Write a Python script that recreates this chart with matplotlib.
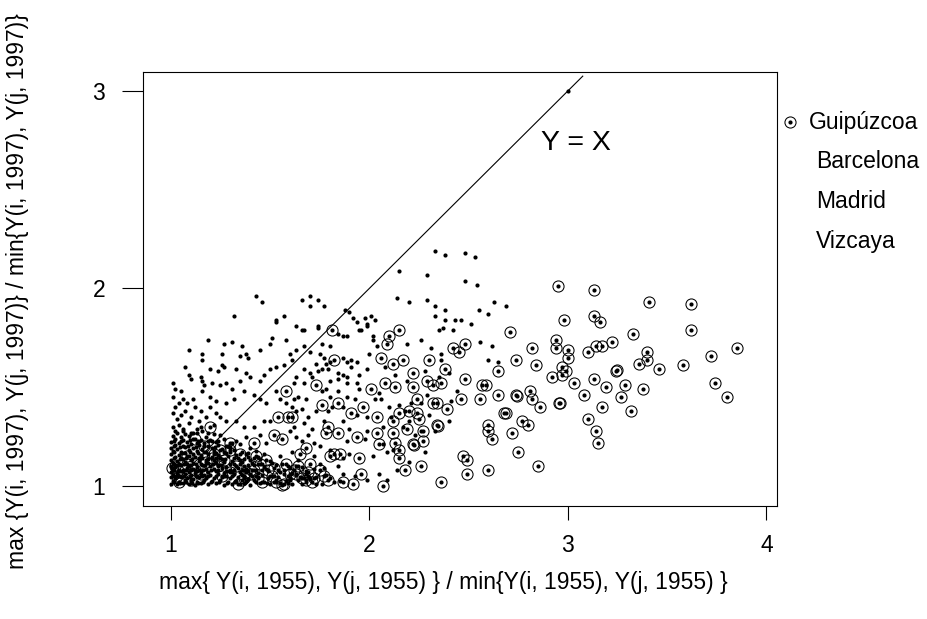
import matplotlib
matplotlib.use("Agg")
import matplotlib.pyplot as plt

plt.rcParams['font.family'] = ['Liberation Sans', 'DejaVu Sans']

# pairs of provinces: (ratio in 1955, ratio in 1997)
# pairs involving Guipuzcoa (drawn circled)
guipuzcoa = [
    (2.95, 2.01), (3.13, 1.99), (3.41, 1.93), (3.62, 1.92), (2.98, 1.84),
    (3.13, 1.86), (3.16, 1.83), (3.62, 1.79), (2.71, 1.78), (3.33, 1.77),
    (2.94, 1.74), (3.22, 1.73), (3.85, 1.70), (2.82, 1.70), (2.94, 1.70),
    (3.00, 1.69), (3.14, 1.71), (3.17, 1.71), (3.10, 1.68), (3.72, 1.66),
    (3.40, 1.68), (3.00, 1.65), (2.74, 1.64), (3.36, 1.62), (3.40, 1.64),
    (3.58, 1.61), (2.84, 1.61), (3.46, 1.59), (3.24, 1.58), (3.25, 1.585),
    (2.97, 1.60), (2.99, 1.58), (2.92, 1.55), (2.97, 1.56), (3.13, 1.54),
    (3.03, 1.52), (3.29, 1.51), (3.19, 1.50), (3.74, 1.52), (3.38, 1.49),
    (3.08, 1.46), (3.27, 1.45), (3.80, 1.45), (2.81, 1.48), (2.82, 1.44),
    (2.74, 1.46), (2.745, 1.458), (2.65, 1.46), (2.56, 1.44), (2.46, 1.44),
    (2.86, 1.40), (2.96, 1.42), (2.955, 1.418), (3.17, 1.40), (3.32, 1.38),
    (3.10, 1.34), (3.14, 1.28), (3.15, 1.22), (2.68, 1.37), (2.69, 1.368),
    (2.77, 1.33), (2.80, 1.31), (2.72, 1.27), (2.60, 1.31), (2.60, 1.28),
    (2.62, 1.24), (2.75, 1.17), (2.85, 1.10), (2.60, 1.08), (2.49, 1.06),
    (2.47, 1.15), (2.49, 1.13), (2.36, 1.02), (2.26, 1.10), (2.18, 1.08),
    (2.07, 1.00), (2.15, 1.18), (2.15, 1.14), (2.34, 1.31), (2.345, 1.305),
    (2.32, 1.42), (2.34, 1.42), (2.39, 1.39), (2.24, 1.44), (2.27, 1.28),
    (2.27, 1.23), (2.22, 1.21), (2.225, 1.205), (2.13, 1.22), (2.12, 1.27),
    (2.12, 1.33), (2.19, 1.29), (2.24, 1.37), (2.25, 1.34), (2.20, 1.38),
    (2.15, 1.37), (2.30, 1.64), (2.38, 1.59), (2.42, 1.70), (2.45, 1.68),
    (2.48, 1.72), (2.48, 1.54), (2.57, 1.51), (2.59, 1.51), (2.65, 1.58),
    (2.29, 1.53), (2.32, 1.51), (2.36, 1.52), (2.22, 1.50), (2.22, 1.57),
    (2.13, 1.50), (2.08, 1.52), (2.12, 1.62), (2.17, 1.64), (2.09, 1.72),
    (2.10, 1.76), (2.15, 1.79), (2.06, 1.65),
    (1.81, 1.79), (1.82, 1.64), (1.73, 1.51), (2.01, 1.49), (1.84, 1.42),
    (1.76, 1.41), (1.97, 1.40), (1.91, 1.37), (2.04, 1.35), (1.61, 1.35),
    (1.79, 1.30), (1.78, 1.27), (1.84, 1.27), (1.94, 1.25), (2.04, 1.27),
    (2.05, 1.21), (1.68, 1.19), (1.65, 1.16), (1.82, 1.16), (1.85, 1.16),
    (1.80, 1.15), (1.95, 1.14), (1.70, 1.11), (1.75, 1.08), (1.77, 1.05),
    (1.79, 1.03), (1.87, 1.02), (1.92, 1.01), (1.96, 1.06), (1.63, 1.06),
    (1.68, 1.03), (1.71, 1.02),
    (1.58, 1.48), (1.54, 1.35), (1.59, 1.35), (1.20, 1.30), (1.52, 1.26),
    (1.56, 1.24), (1.25, 1.18), (1.30, 1.18), (1.42, 1.22), (1.21, 1.14),
    (1.02, 1.10), (1.06, 1.08), (1.36, 1.03), (1.43, 1.15), (1.48, 1.13),
    (1.58, 1.11), (1.57, 1.01), (1.51, 1.05), (1.15, 1.06), (1.26, 1.05),
    (1.30, 1.07), (1.005, 1.09), (1.30, 1.22), (1.37, 1.04), (1.42, 1.08),
    (1.56, 1.005), (1.10, 1.03), (1.12, 1.08), (1.18, 1.12), (1.08, 1.15),
    (1.33, 1.10), (1.40, 1.06), (1.46, 1.02), (1.52, 1.09), (1.62, 1.08),
    (1.66, 1.04), (1.03, 1.05), (1.24, 1.10), (1.35, 1.16), (1.45, 1.11),
    (1.34, 1.01), (1.38, 1.07), (1.44, 1.04), (1.49, 1.08), (1.53, 1.02),
    (1.60, 1.06), (1.64, 1.10), (1.69, 1.07), (1.72, 1.04), (1.27, 1.13),
    (1.22, 1.16), (1.17, 1.20), (1.12, 1.24), (1.04, 1.02), (1.08, 1.11),
]

# remaining pairs, spread part of the cloud
others_spread = [
    (3.00, 3.00),
    (2.33, 2.19), (2.38, 2.17), (2.48, 2.18), (2.53, 2.16), (2.15, 2.09),
    (2.29, 2.07), (2.48, 2.04), (2.54, 2.02), (2.14, 1.95), (2.20, 1.93),
    (2.29, 1.94), (2.33, 1.91), (2.38, 1.89), (2.63, 1.93), (2.69, 1.91),
    (2.55, 1.89), (2.60, 1.87), (2.33, 1.86), (2.38, 1.84), (2.43, 1.84),
    (2.46, 1.84), (2.51, 1.82), (2.37, 1.80), (2.35, 1.79), (2.42, 1.79),
    (2.26, 1.74), (2.19, 1.72), (2.31, 1.70), (2.56, 1.73), (2.62, 1.71),
    (2.36, 1.67), (2.36, 1.64), (2.60, 1.64), (2.65, 1.63), (2.40, 1.57),
    (1.43, 1.96), (1.46, 1.93), (1.32, 1.86), (1.53, 1.84), (1.57, 1.86),
    (1.70, 1.96), (1.66, 1.94), (1.74, 1.94), (1.70, 1.91), (1.77, 1.91),
    (1.88, 1.89), (1.90, 1.88), (1.92, 1.85), (1.94, 1.83), (1.98, 1.85),
    (2.01, 1.86), (2.03, 1.84), (1.99, 1.81), (1.63, 1.81), (1.66, 1.79),
    (1.74, 1.81), (1.95, 1.79), (2.02, 1.76), (1.87, 1.76),
    (1.53, 1.83), (1.19, 1.74), (1.09, 1.69), (1.16, 1.67), (1.16, 1.64),
    (1.26, 1.67), (1.27, 1.72), (1.31, 1.73), (1.36, 1.71), (1.35, 1.66),
    (1.38, 1.67), (1.39, 1.65), (1.45, 1.69), (1.50, 1.72), (1.51, 1.75),
    (1.58, 1.74), (1.60, 1.67), (1.26, 1.61), (1.27, 1.60), (1.20, 1.59),
    (1.24, 1.58), (1.33, 1.59), (1.07, 1.60), (1.09, 1.56), (1.10, 1.54),
    (1.15, 1.55), (1.16, 1.53), (1.17, 1.51), (1.21, 1.52), (1.25, 1.51),
    (1.28, 1.52), (1.31, 1.49), (1.35, 1.53), (1.38, 1.57), (1.40, 1.55),
    (1.45, 1.53), (1.47, 1.56), (1.50, 1.59), (1.53, 1.60), (1.57, 1.61),
    (1.61, 1.64), (1.01, 1.52), (1.02, 1.49), (1.05, 1.48), (1.01, 1.45),
    (1.06, 1.44), (1.02, 1.40), (1.08, 1.42), (1.11, 1.44), (1.16, 1.48),
    (1.20, 1.45), (1.23, 1.43), (1.28, 1.42), (1.32, 1.44), (1.37, 1.48),
    (1.42, 1.46), (1.45, 1.44), (1.48, 1.42), (1.53, 1.48), (1.55, 1.44),
    (1.01, 1.37), (1.05, 1.36), (1.10, 1.35), (1.14, 1.33), (1.18, 1.35),
    (1.23, 1.37), (1.28, 1.33), (1.33, 1.33), (1.37, 1.30), (1.42, 1.30),
    (1.47, 1.33), (1.50, 1.33), (1.01, 1.30), (1.06, 1.28), (1.11, 1.27),
    (1.16, 1.28), (1.21, 1.23), (1.33, 1.23), (1.38, 1.25), (1.45, 1.26),
    (1.48, 1.22), (1.60, 1.28), (1.61, 1.40), (1.62, 1.44), (1.58, 1.42),
    (1.67, 1.79), (1.74, 1.80), (1.84, 1.77), (1.89, 1.76), (1.96, 1.79),
    (1.99, 1.82), (2.02, 1.74), (2.04, 1.71), (2.00, 1.67), (1.63, 1.69),
    (1.67, 1.71), (1.70, 1.68), (1.76, 1.72), (1.80, 1.71), (1.75, 1.67),
    (1.77, 1.65), (1.73, 1.62), (1.78, 1.62), (1.80, 1.63), (1.87, 1.65),
    (1.89, 1.63), (1.91, 1.64), (1.94, 1.63), (1.91, 1.60), (1.67, 1.59),
    (1.70, 1.57), (1.74, 1.58), (1.76, 1.59), (1.79, 1.59), (1.84, 1.57),
    (1.87, 1.56), (1.89, 1.55), (1.95, 1.56), (1.99, 1.59), (1.63, 1.55),
    (1.62, 1.52), (1.67, 1.52), (1.71, 1.55), (1.80, 1.53), (1.84, 1.54),
    (1.89, 1.52), (1.94, 1.52), (1.95, 1.49), (1.64, 1.45), (1.68, 1.44),
    (1.76, 1.48), (1.78, 1.49), (1.80, 1.45), (1.84, 1.48), (1.89, 1.45),
    (1.93, 1.44), (2.03, 1.44), (2.06, 1.44), (1.63, 1.38), (1.66, 1.39),
    (1.69, 1.35), (1.73, 1.38), (1.79, 1.38), (1.81, 1.40), (1.87, 1.40),
    (1.94, 1.36), (1.99, 1.35), (1.62, 1.30), (1.67, 1.32), (1.71, 1.29),
    (1.77, 1.33), (1.87, 1.33), (1.90, 1.29), (1.99, 1.28), (2.07, 1.30),
    (1.63, 1.25), (1.66, 1.23), (1.69, 1.26), (1.72, 1.22), (1.75, 1.20),
    (1.80, 1.18), (1.89, 1.23), (1.98, 1.24), (2.07, 1.21), (1.61, 1.17),
    (1.64, 1.13), (1.72, 1.15), (1.75, 1.11), (1.87, 1.14), (1.90, 1.16),
    (2.02, 1.15), (2.09, 1.17), (2.12, 1.18), (1.63, 1.10), (1.68, 1.06),
    (1.77, 1.09), (1.84, 1.10), (1.87, 1.06), (1.93, 1.05), (2.05, 1.06),
    (2.09, 1.03), (1.60, 1.03), (1.73, 1.01), (1.82, 1.02), (1.99, 1.03),
    (2.10, 1.40), (2.15, 1.41), (2.18, 1.38), (2.21, 1.42), (2.26, 1.42),
    (2.20, 1.33), (2.26, 1.28), (2.11, 1.35), (2.17, 1.30), (2.23, 1.26),
    (2.30, 1.36), (2.33, 1.28), (2.40, 1.33), (2.28, 1.17), (2.20, 1.12),
    (2.14, 1.08), (2.41, 1.43), (2.29, 1.46), (2.44, 1.48), (2.35, 1.55),
    (2.28, 1.58), (2.19, 1.53), (2.13, 1.56), (2.08, 1.60), (2.05, 1.47),
]

# remaining pairs, the dense corner near (1, 1)
others_dense = [
    (1.00, 1.012), (1.03, 1.008), (1.06, 1.015), (1.09, 1.010), (1.12, 1.005),
    (1.15, 1.013), (1.19, 1.009), (1.23, 1.016), (1.27, 1.007), (1.31, 1.012),
    (1.35, 1.010), (1.40, 1.006), (1.45, 1.014), (1.50, 1.009), (1.55, 1.017),
    (1.61, 1.008), (1.66, 1.012), (1.76, 1.010),
    (1.01, 1.027), (1.04, 1.022), (1.07, 1.030), (1.10, 1.025), (1.13, 1.021),
    (1.17, 1.028), (1.21, 1.024), (1.25, 1.031), (1.29, 1.022), (1.33, 1.027),
    (1.38, 1.025), (1.42, 1.030), (1.47, 1.021), (1.53, 1.028), (1.58, 1.023),
    (1.64, 1.029), (1.70, 1.035), (1.85, 1.025),
    (1.00, 1.043), (1.02, 1.038), (1.05, 1.045), (1.08, 1.040), (1.11, 1.036),
    (1.14, 1.047), (1.18, 1.041), (1.22, 1.038), (1.26, 1.046), (1.30, 1.040),
    (1.34, 1.044), (1.39, 1.037), (1.44, 1.043), (1.49, 1.039), (1.54, 1.046),
    (1.60, 1.041), (1.67, 1.038), (1.73, 1.047), (1.80, 1.040),
    (1.01, 1.057), (1.04, 1.053), (1.07, 1.060), (1.10, 1.055), (1.13, 1.051),
    (1.17, 1.058), (1.20, 1.054), (1.24, 1.061), (1.28, 1.052), (1.32, 1.059),
    (1.36, 1.055), (1.41, 1.050), (1.46, 1.058), (1.52, 1.053), (1.57, 1.062),
    (1.63, 1.056), (1.69, 1.050), (1.78, 1.058),
    (1.00, 1.072), (1.03, 1.068), (1.06, 1.075), (1.09, 1.070), (1.12, 1.066),
    (1.15, 1.074), (1.19, 1.069), (1.23, 1.076), (1.27, 1.067), (1.31, 1.073),
    (1.35, 1.070), (1.39, 1.077), (1.44, 1.068), (1.49, 1.074), (1.55, 1.071),
    (1.61, 1.066), (1.68, 1.075),
    (1.01, 1.087), (1.04, 1.083), (1.08, 1.090), (1.11, 1.085), (1.14, 1.081),
    (1.18, 1.088), (1.22, 1.084), (1.26, 1.091), (1.30, 1.082), (1.34, 1.089),
    (1.38, 1.085), (1.43, 1.080), (1.48, 1.088), (1.54, 1.083), (1.60, 1.090),
    (1.72, 1.085),
    (1.00, 1.102), (1.02, 1.098), (1.05, 1.105), (1.09, 1.100), (1.13, 1.096),
    (1.16, 1.104), (1.20, 1.099), (1.24, 1.106), (1.28, 1.097), (1.33, 1.103),
    (1.37, 1.100), (1.42, 1.107), (1.47, 1.098), (1.53, 1.104), (1.59, 1.099),
    (1.66, 1.095),
    (1.01, 1.117), (1.04, 1.113), (1.07, 1.120), (1.11, 1.115), (1.15, 1.111),
    (1.19, 1.118), (1.23, 1.114), (1.27, 1.121), (1.32, 1.112), (1.36, 1.119),
    (1.41, 1.115), (1.46, 1.110), (1.51, 1.118), (1.56, 1.113),
    (1.00, 1.132), (1.03, 1.128), (1.06, 1.135), (1.10, 1.130), (1.14, 1.126),
    (1.18, 1.134), (1.22, 1.129), (1.26, 1.136), (1.31, 1.127), (1.35, 1.133),
    (1.40, 1.130), (1.45, 1.137), (1.50, 1.128),
    (1.02, 1.147), (1.05, 1.143), (1.09, 1.150), (1.12, 1.145), (1.16, 1.141),
    (1.21, 1.148), (1.25, 1.144), (1.29, 1.151), (1.34, 1.142), (1.39, 1.149),
    (1.44, 1.145), (1.55, 1.150),
    (1.00, 1.162), (1.04, 1.158), (1.07, 1.165), (1.11, 1.160), (1.15, 1.156),
    (1.19, 1.164), (1.24, 1.159), (1.28, 1.166), (1.33, 1.157), (1.38, 1.163),
    (1.47, 1.160),
    (1.01, 1.177), (1.05, 1.173), (1.09, 1.180), (1.13, 1.175), (1.17, 1.171),
    (1.22, 1.178), (1.27, 1.174), (1.32, 1.181), (1.36, 1.172), (1.43, 1.176),
    (1.00, 1.192), (1.03, 1.188), (1.07, 1.195), (1.11, 1.190), (1.16, 1.186),
    (1.21, 1.194), (1.26, 1.189), (1.30, 1.196), (1.40, 1.190),
    (1.02, 1.207), (1.06, 1.203), (1.10, 1.210), (1.14, 1.205), (1.19, 1.201),
    (1.24, 1.208), (1.29, 1.204), (1.35, 1.211),
    (1.00, 1.222), (1.04, 1.218), (1.08, 1.225), (1.13, 1.220), (1.17, 1.216),
    (1.23, 1.224), (1.31, 1.219),
    (1.02, 1.237), (1.06, 1.233), (1.11, 1.240), (1.15, 1.235), (1.20, 1.231),
    (1.27, 1.238),
    (1.01, 1.252), (1.05, 1.248), (1.09, 1.255), (1.18, 1.250), (1.25, 1.256),
    (1.03, 1.267), (1.07, 1.263), (1.13, 1.270), (1.22, 1.265),
]

# more of the dense corner, between the rows above
others_dense_fill = [
    (1.015, 1.018), (1.045, 1.015), (1.075, 1.020), (1.105, 1.017), (1.135, 1.016),
    (1.165, 1.019), (1.205, 1.018), (1.245, 1.020), (1.285, 1.016), (1.325, 1.019),
    (1.37, 1.017), (1.43, 1.019), (1.485, 1.016), (1.52, 1.020), (1.59, 1.015),
    (1.68, 1.020),
    (1.015, 1.050), (1.035, 1.048), (1.065, 1.050), (1.095, 1.047), (1.125, 1.052),
    (1.155, 1.049), (1.19, 1.051), (1.23, 1.048), (1.27, 1.052), (1.31, 1.049),
    (1.37, 1.048), (1.43, 1.051), (1.50, 1.049), (1.59, 1.052), (1.65, 1.047),
    (1.015, 1.080), (1.045, 1.077), (1.075, 1.082), (1.10, 1.079), (1.13, 1.078),
    (1.165, 1.081), (1.205, 1.079), (1.24, 1.082), (1.285, 1.078), (1.32, 1.081),
    (1.365, 1.079), (1.41, 1.082), (1.46, 1.079), (1.57, 1.081),
    (1.015, 1.110), (1.03, 1.107), (1.065, 1.111), (1.095, 1.108), (1.125, 1.110),
    (1.175, 1.107), (1.215, 1.111), (1.255, 1.108), (1.30, 1.109), (1.35, 1.111),
    (1.39, 1.108), (1.44, 1.110),
    (1.015, 1.140), (1.045, 1.137), (1.075, 1.141), (1.105, 1.138), (1.14, 1.140),
    (1.19, 1.137), (1.23, 1.141), (1.275, 1.138), (1.32, 1.140), (1.37, 1.138),
    (1.42, 1.141),
    (1.015, 1.170), (1.055, 1.168), (1.095, 1.171), (1.135, 1.167), (1.18, 1.170),
    (1.23, 1.168), (1.30, 1.171), (1.39, 1.168),
    (1.015, 1.200), (1.045, 1.198), (1.085, 1.201), (1.125, 1.197), (1.17, 1.200),
    (1.225, 1.198), (1.28, 1.201),
    (1.015, 1.230), (1.05, 1.228), (1.095, 1.231), (1.135, 1.227), (1.19, 1.230),
    (1.24, 1.228),
    (1.02, 1.28), (1.06, 1.29), (1.10, 1.27), (1.15, 1.30), (1.04, 1.31),
    (1.09, 1.32), (1.13, 1.29), (1.19, 1.27), (1.03, 1.34), (1.07, 1.38),
    (1.12, 1.40), (1.04, 1.42), (1.15, 1.38), (1.20, 1.40), (1.25, 1.35),
    (1.22, 1.31),
]

provinces = ["Guipúzcoa", "Barcelona", "Madrid", "Vizcaya"]
x_ticks = [1, 2, 3, 4]
y_ticks = [1, 2, 3]
diag_end = 3.075

fig = plt.figure(figsize=(9.28, 6.19), dpi=100)
ax = fig.add_axes([0.1538, 0.183, 0.683, 0.7007])

# all pairs get a dot, Guipuzcoa pairs get a circle round it
all_pairs = others_dense + others_dense_fill + others_spread + guipuzcoa
ax.plot([p[0] for p in all_pairs], [p[1] for p in all_pairs], 'o',
        color='black', markersize=3.0, markeredgewidth=0, linestyle='none')
ax.plot([p[0] for p in guipuzcoa], [p[1] for p in guipuzcoa], 'o',
        markerfacecolor='none', markeredgecolor='black', markersize=8,
        markeredgewidth=0.75, linestyle='none')

# bisector
ax.plot([1, diag_end], [1, diag_end], color='black', linewidth=0.8)
ax.text(3.04, 2.70, "Y = X", fontsize=20.5, ha='center', va='baseline')

ax.set_xlim(0.859, 4.051)
ax.set_ylim(0.900, 3.096)
ax.set_xticks(x_ticks)
ax.set_yticks(y_ticks)
ax.tick_params(axis='x', direction='out', length=10, width=0.8, pad=10, labelsize=16.5)
ax.tick_params(axis='y', direction='out', length=15, width=0.8, pad=12, labelsize=16.5)
for sp in ax.spines.values():
    sp.set_linewidth(0.8)

fig.text(443 / 928, 1 - 582 / 619,
         "max{ Y(i, 1955), Y(j, 1955) } / min{Y(i, 1955), Y(j, 1955) }",
         fontsize=16.5, ha='center', va='center')
fig.text(18 / 928, 1 - 291 / 619,
         "max {Y(i, 1997), Y(j, 1997)} / min{Y(i, 1997), Y(j, 1997)}",
         fontsize=16.5, ha='center', va='center', rotation=90)

# key on the right, only Guipuzcoa has a symbol
rows_y = [122, 162, 201, 241]
for i, name in enumerate(provinces):
    fy = 1 - rows_y[i] / 619
    if i == 0:
        fig.lines.append(plt.Line2D([790 / 928], [fy], marker='o', markersize=8,
                                    markerfacecolor='none', markeredgecolor='black',
                                    markeredgewidth=0.75, transform=fig.transFigure))
        fig.lines.append(plt.Line2D([790 / 928], [fy], marker='o', markersize=3.0,
                                    color='black', markeredgewidth=0,
                                    transform=fig.transFigure))
        fig.text(809 / 928, fy, name, fontsize=16.5, ha='left', va='center')
    else:
        fig.text(816 / 928, fy, name, fontsize=16.5, ha='left', va='center')

fig.savefig("out.png", dpi=100)
